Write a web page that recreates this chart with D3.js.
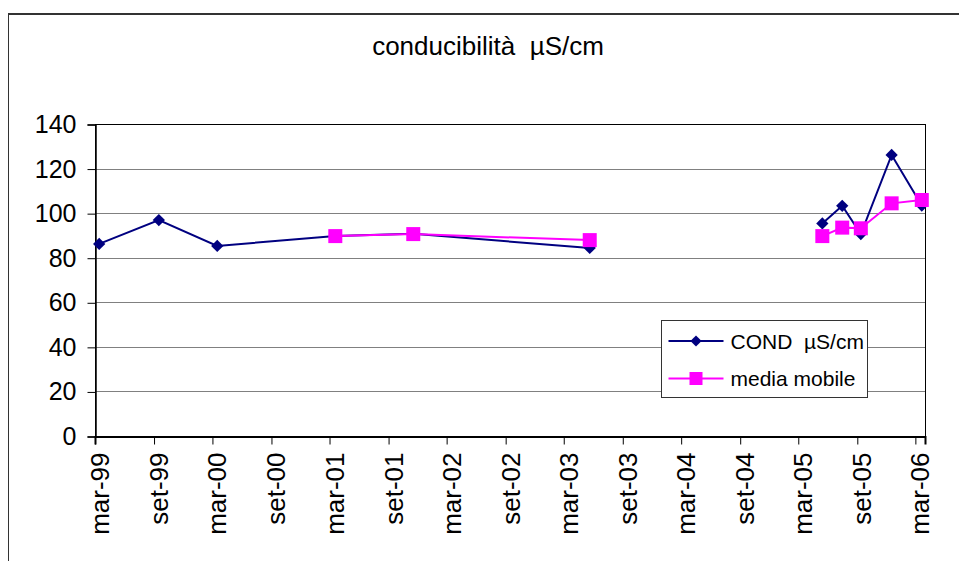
<!DOCTYPE html>
<html>
<head>
<meta charset="utf-8">
<script src="https://cdn.jsdelivr.net/npm/d3@7"></script>
<style>
  body { margin: 0; background: #fff; }
  svg { display: block; font-family: "Liberation Sans", Arial, sans-serif; }
</style>
</head>
<body>
<svg id="chart" width="959" height="561"></svg>
<script>
// misure conducibilità (null = interruzione della serie)
var condDates = ["1999-03-14", "1999-09-16", "2000-03-16", "2001-03-19", "2001-11-17", "2003-05-21",
                 "2004-05-01",
                 "2005-05-15", "2005-07-16", "2005-09-12", "2005-12-17", "2006-03-21"]
var condValues = [86.2, 96.9, 85.3, 89.7, 90.7, 84.4,
                  null,
                  95.4, 103.3, 90.6, 126.1, 103.4]
var mediaValues = [null, null, null, 89.7, 90.6, 87.9,
                   null,
                   89.7, 93.5, 93.2, 104.4, 105.9]

var tickDates = ["1999-03-01", "1999-09-01", "2000-03-01", "2000-09-01", "2001-03-01", "2001-09-01",
                 "2002-03-01", "2002-09-01", "2003-03-01", "2003-09-01", "2004-03-01", "2004-09-01",
                 "2005-03-01", "2005-09-01", "2006-03-01"]
var tickLabels = ["mar-99", "set-99", "mar-00", "set-00", "mar-01", "set-01", "mar-02", "set-02",
                  "mar-03", "set-03", "mar-04", "set-04", "mar-05", "set-05", "mar-06"]
var yTicks = [0, 20, 40, 60, 80, 100, 120, 140]

drawChart()

function drawChart() {
    var parse = d3.timeParse("%Y-%m-%d")
    var svg = d3.select("#chart")

    // cornice esterna (tagliata a destra e in basso)
    svg.append("line").attr("x1", 8.5).attr("y1", 14).attr("x2", 959).attr("y2", 14)
        .attr("stroke", "#333").attr("stroke-width", 2)
    svg.append("line").attr("x1", 8.5).attr("y1", 13).attr("x2", 8.5).attr("y2", 561)
        .attr("stroke", "#333").attr("stroke-width", 1)

    var pLeft = 95, pRight = 925, pTop = 124, pBottom = 436

    var x = d3.scaleTime()
        .domain([parse("1999-03-01"), parse("2006-03-31")])
        .range([pLeft, pRight])
    var y = d3.scaleLinear().domain([0, 140]).range([pBottom, pTop])

    // griglia
    svg.append("g")
        .selectAll("line")
        .data(yTicks.filter(function (d) { return d > 0 && d < 140 }))
        .enter()
        .append("line")
        .attr("x1", pLeft).attr("x2", pRight)
        .attr("y1", function (d) { return Math.round(y(d)) + 0.5 })
        .attr("y2", function (d) { return Math.round(y(d)) + 0.5 })
        .attr("stroke", "#808080")

    // bordo area del grafico
    svg.append("rect")
        .attr("x", pLeft + 0.5).attr("y", pTop + 0.5)
        .attr("width", pRight - pLeft).attr("height", pBottom - pTop)
        .attr("fill", "none").attr("stroke", "#000")

    // asse y
    var yAxis = d3.axisLeft(y).tickValues(yTicks).tickSize(8).tickPadding(11)
    var gy = svg.append("g").attr("transform", "translate(" + (pLeft + 0.5) + ",0.5)").call(yAxis)
    gy.select(".domain").attr("stroke", "#000").attr("stroke-width", 1.5)
    gy.selectAll("text").attr("font-size", 25).attr("font-family", "Liberation Sans, Arial").attr("fill", "#000")

    // asse x
    var xAxis = d3.axisBottom(x)
        .tickValues(tickDates.map(parse))
        .tickFormat(function (d, i) { return tickLabels[i] })
        .tickSize(8)
    var gx = svg.append("g").attr("transform", "translate(0," + (pBottom + 0.5) + ")").call(xAxis)
    gx.select(".domain").attr("stroke", "#000").attr("stroke-width", 2)
    gx.selectAll("text")
        .attr("font-size", 26).attr("font-family", "Liberation Sans, Arial").attr("fill", "#000")
        .attr("transform", "rotate(-90)")
        .attr("text-anchor", "end")
        .attr("x", -16).attr("y", 0).attr("dy", "0.52em")

    // serie
    var cond = condDates.map(function (d, i) { return { date: parse(d), v: condValues[i] } })
    var media = condDates.map(function (d, i) { return { date: parse(d), v: mediaValues[i] } })

    var line = d3.line()
        .defined(function (d) { return d.v !== null })
        .x(function (d) { return x(d.date) })
        .y(function (d) { return y(d.v) })

    var navy = "#000080", magenta = "#FF00FF"

    svg.append("path").datum(cond).attr("d", line)
        .attr("fill", "none").attr("stroke", navy).attr("stroke-width", 2)
    svg.append("g").selectAll("path")
        .data(cond.filter(function (d) { return d.v !== null }))
        .enter().append("path")
        .attr("d", d3.symbol().type(d3.symbolDiamond2).size(96))
        .attr("transform", function (d) { return "translate(" + x(d.date) + "," + y(d.v) + ")" })
        .attr("fill", navy)

    svg.append("path").datum(media).attr("d", line)
        .attr("fill", "none").attr("stroke", magenta).attr("stroke-width", 2)
    svg.append("g").selectAll("rect")
        .data(media.filter(function (d) { return d.v !== null }))
        .enter().append("rect")
        .attr("x", function (d) { return x(d.date) - 7 })
        .attr("y", function (d) { return y(d.v) - 7 })
        .attr("width", 14).attr("height", 14)
        .attr("fill", magenta)

    // titolo
    svg.append("text")
        .attr("x", 488).attr("y", 55)
        .attr("text-anchor", "middle")
        .attr("font-size", 26)
        .style("white-space", "pre")
        .text("conducibilità  µS/cm")

    // legenda
    var lg = svg.append("g").attr("transform", "translate(661.5,320.5)")
    lg.append("rect").attr("width", 206).attr("height", 77)
        .attr("fill", "#fff").attr("stroke", "#333")
    var items = [{ name: "COND  µS/cm", color: navy, mark: "diamond" },
                 { name: "media mobile", color: magenta, mark: "square" }]
    items.forEach(function (it, i) {
        var cy = 20.5 + i * 37.5
        lg.append("line").attr("x1", 7).attr("x2", 62).attr("y1", cy).attr("y2", cy)
            .attr("stroke", it.color).attr("stroke-width", 2)
        if (it.mark === "diamond") {
            lg.append("path").attr("d", d3.symbol().type(d3.symbolDiamond2).size(80))
                .attr("transform", "translate(34.5," + cy + ")").attr("fill", it.color)
        } else {
            lg.append("rect").attr("x", 28).attr("y", cy - 6.5).attr("width", 13).attr("height", 13)
                .attr("fill", it.color)
        }
        lg.append("text").attr("x", 69).attr("y", cy + 7.5)
            .attr("font-size", 21).style("white-space", "pre").text(it.name)
    })
}
</script>
</body>
</html>
